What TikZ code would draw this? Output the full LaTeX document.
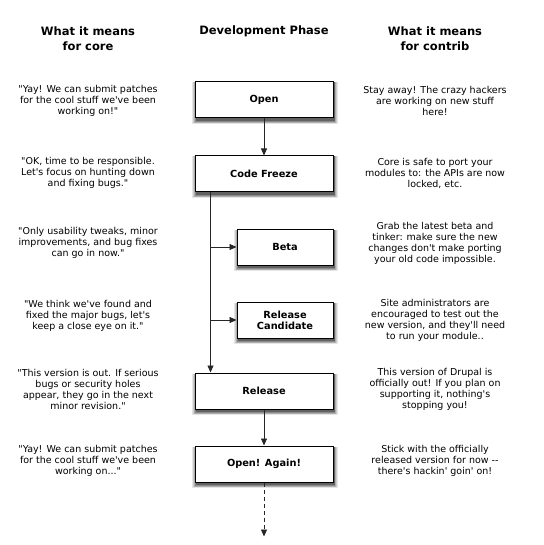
\documentclass[tikz,border=0pt]{standalone}
\usepackage{fontspec}
\setmainfont{DejaVu Sans}[Ligatures=TeXOff]
\usetikzlibrary{positioning,arrows.meta,backgrounds}

\begin{document}
\begin{tikzpicture}[
  x=1pt, y=1pt,
  node distance=36pt,
  phase/.style={draw, fill=white, line width=1pt, minimum width=138pt, minimum height=36pt, align=center, font=\fontsize{9.8}{11}\selectfont\bfseries},
  subphase/.style={phase, minimum width=96pt},
  head/.style={align=center, font=\fontsize{11.5}{14.5}\selectfont\bfseries},
  note/.style={align=center, font=\fontsize{9.5}{11}\selectfont},
  flow/.style={-{Triangle[length=7pt, width=6pt]}, line width=0.8pt, black!85}
]
\useasboundingbox (0,0) rectangle (543,-545);

% column headings
\node[head] (corehead) at (88,-38.5) {What it means\\for core};
\node[head] (phasehead) at (264,-31) {Development Phase};
\node[head] (contribhead) at (435,-38.5) {What it means\\for contrib};

% phases
\node[phase] (open) at (264,-100) {Open};
\node[phase, below=37pt of open] (freeze) {Code Freeze};
\node[subphase, below=of freeze.south east, anchor=north east] (beta) {Beta};
\node[subphase, below=of beta] (rc) {Release\\Candidate};
\node[phase, below=180pt of freeze] (release) {Release};
\node[phase, below=of release] (again) {Open! Again!};

% soft shadows under the phase boxes
\begin{scope}[on background layer]
  \foreach \n in {open,freeze,beta,rc,release,again}
    \foreach \d/\g in {4/10,3/20,2/32,1/46,0/62}
      \fill[black!\g] ([xshift=1pt-\d*0.8pt, yshift=-2.5pt-\d*0.8pt]\n.south west)
        rectangle ([xshift=1pt+\d*0.8pt, yshift=-1pt]\n.north east);
\end{scope}

% what it means for core
\node[note] (core1) at (88,-101) {"Yay! We can submit patches\\for the cool stuff we've been\\working on!"};
\node[note] (core2) at (88,-173) {"OK, time to be responsible.\\Let's focus on hunting down\\and fixing bugs."};
\node[note] (core3) at (88,-243) {"Only usability tweaks, minor\\improvements, and bug fixes\\can go in now."};
\node[note] (core4) at (88,-316) {"We think we've found and\\fixed the major bugs, let's\\keep a close eye on it."};
\node[note] (core5) at (88,-389) {"This version is out. If serious\\bugs or security holes\\appear, they go in the next\\minor revision."};
\node[note] (core6) at (88,-461) {"Yay! We can submit patches\\for the cool stuff we've been\\working on..."};

% what it means for contrib
\node[note] (contrib1) at (435,-101) {Stay away! The crazy hackers\\are working on new stuff\\here!};
\node[note] (contrib2) at (435,-173) {Core is safe to port your\\modules to: the APIs are now\\locked, etc.};
\node[note] (contrib3) at (435,-243) {Grab the latest beta and\\tinker: make sure the new\\changes don't make porting\\your old code impossible.};
\node[note] (contrib4) at (435,-320) {Site administrators are\\encouraged to test out the\\new version, and they'll need\\to run your module..};
\node[note] (contrib5) at (435,-389) {This version of Drupal is\\officially out! If you plan on\\supporting it, nothing's\\stopping you!};
\node[note] (contrib6) at (435,-461) {Stick with the officially\\released version for now -{}-\\there's hackin' goin' on!};

% connectors
\coordinate (trunk) at ([xshift=16pt]freeze.south west);
\coordinate (next) at ([yshift=-54pt]again.south);
\draw[flow] (open) -- (freeze);
\draw[flow] (trunk) -- (trunk |- release.north);
\draw[flow] (trunk |- beta) -- (beta.west);
\draw[flow] (trunk |- rc) -- (rc.west);
\draw[flow] (release) -- (again);
\draw[flow, dash pattern=on 4pt off 3pt] (again) -- (next);
\end{tikzpicture}
\end{document}
